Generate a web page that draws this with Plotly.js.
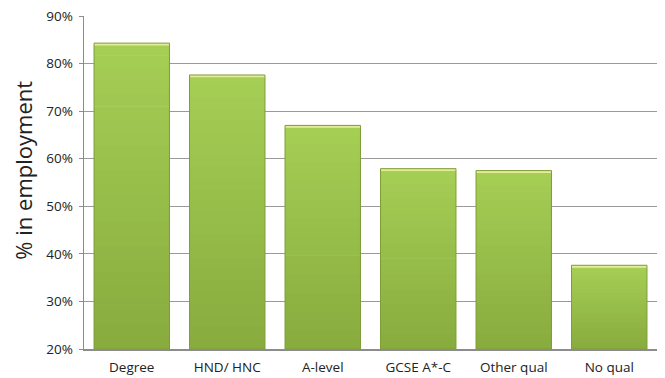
<!DOCTYPE html>
<html>
<head>
<meta charset="utf-8">
<script src="https://cdn.plot.ly/plotly-3.0.1.min.js"></script>
<style>
  html, body { margin: 0; padding: 0; background: #ffffff; }
  #chart { width: 665px; height: 378px; }
</style>
</head>
<body>
<div id="chart"></div>
<script>
// Share of people in employment by highest qualification
const qualifications = ['Degree', 'HND/ HNC', 'A-level', 'GCSE A*-C', 'Other qual', 'No qual'];
const employmentPct = [84.3, 77.6, 67.0, 57.9, 57.5, 37.6];
const yTickValues = [20, 30, 40, 50, 60, 70, 80, 90];
const yTickLabels = ['20%', '30%', '40%', '50%', '60%', '70%', '80%', '90%'];

const axisFloor = 20;

// Each bar is filled as a stack of bands that darken toward the axis
const bands = 24;
const topRGB = [166, 207, 86];
const bottomRGB = [136, 171, 61];
function mix(t) {
  const c = topRGB.map((a, i) => Math.round(bottomRGB[i] + (a - bottomRGB[i]) * t));
  return 'rgb(' + c.join(',') + ')';
}

const traces = [];
for (let k = 0; k < bands; k++) {
  const lo = k / bands;
  const hi = (k + 1) / bands;
  traces.push({
    type: 'bar',
    x: qualifications,
    base: employmentPct.map(v => axisFloor + (v - axisFloor) * lo),
    y: employmentPct.map(v => (v - axisFloor) * (hi - lo) + (k < bands - 1 ? 0.15 : 0)),
    marker: { color: mix((k + 0.5) / bands), line: { width: 0 } },
    hoverinfo: 'skip'
  });
}

// pale rim along the top edge of each bar
const capDepth = 0.5;
traces.push({
  type: 'bar',
  x: qualifications,
  base: employmentPct.map(v => v - capDepth),
  y: employmentPct.map(() => capDepth),
  marker: { color: 'rgba(236,240,160,0.9)', line: { width: 0 } },
  hoverinfo: 'skip'
});

// outline of the full bar
traces.push({
  type: 'bar',
  x: qualifications,
  base: axisFloor,
  y: employmentPct.map(v => v - axisFloor),
  marker: { color: 'rgba(0,0,0,0)', line: { color: '#7d9d37', width: 1 } },
  hoverinfo: 'skip'
});

const layout = {
  width: 665,
  height: 378,
  margin: { l: 84, r: 8, t: 16, b: 29 },
  paper_bgcolor: '#ffffff',
  plot_bgcolor: '#ffffff',
  showlegend: false,
  barmode: 'overlay',
  bargap: 0.21,
  font: { family: 'Open Sans, Noto Sans, sans-serif', color: '#222222', size: 13 },
  xaxis: {
    type: 'category',
    showgrid: false,
    showline: true,
    linecolor: '#8c8c8c',
    linewidth: 1.5,
    ticks: '',
    ticklabelstandoff: 5,
    tickfont: { size: 13.5, color: '#222222' },
    fixedrange: true
  },
  yaxis: {
    range: [20, 90],
    tickvals: yTickValues,
    ticktext: yTickLabels,
    showgrid: true,
    gridcolor: '#9a9a9a',
    gridwidth: 1.2,
    showline: true,
    linecolor: '#8c8c8c',
    linewidth: 1.5,
    ticks: 'outside',
    ticklen: 4,
    tickcolor: '#8c8c8c',
    ticklabelstandoff: 3,
    tickfont: { size: 13.5, color: '#222222' },
    zeroline: false,
    fixedrange: true
  },
  annotations: [{
    text: '% in employment',
    xref: 'paper', yref: 'paper',
    x: -0.108, y: 0.536,
    xanchor: 'center', yanchor: 'middle',
    textangle: -90,
    showarrow: false,
    font: { size: 22, color: '#222222' }
  }]
};

Plotly.newPlot('chart', traces, layout, { displayModeBar: false, staticPlot: true });
</script>
</body>
</html>
